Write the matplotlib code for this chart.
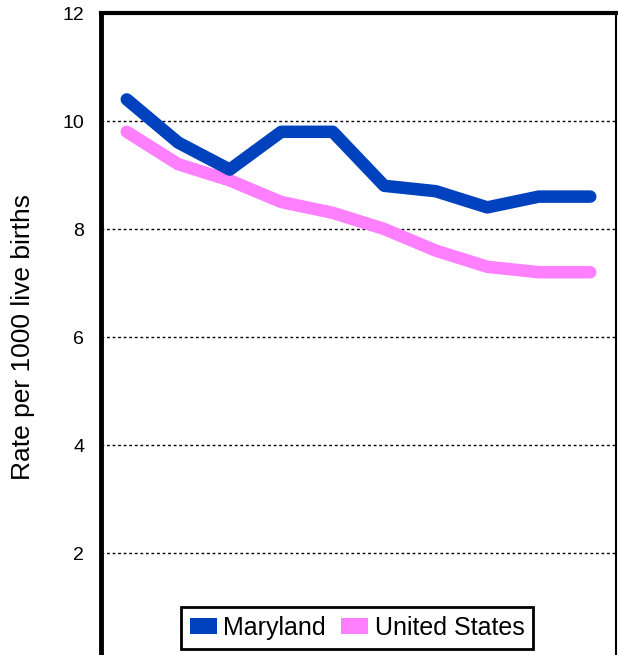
import matplotlib
matplotlib.use("Agg")
import matplotlib.pyplot as plt
from matplotlib.patches import Patch

# readings, 10 years (x labels are cropped out of the picture)
years = list(range(10))
maryland = [10.4, 9.6, 9.1, 9.8, 9.8, 8.8, 8.7, 8.4, 8.6, 8.6]
united_states = [9.8, 9.2, 8.9, 8.5, 8.3, 8.0, 7.6, 7.3, 7.2, 7.2]
y_ticks = [2, 4, 6, 8, 10, 12]

blue = "#0041BE"
pink = "#FF80FF"

plt.rcParams["font.family"] = ["Liberation Sans", "DejaVu Sans"]

fig = plt.figure(figsize=(6.18, 6.55), dpi=100)
# bottom of the plot area falls just below the picture edge
ax = fig.add_axes([101 / 618, -6 / 655, 515 / 618, 648 / 655])

ax.plot(years, united_states, color=pink, linewidth=9,
        solid_capstyle="round", solid_joinstyle="round", zorder=3)
ax.plot(years, maryland, color=blue, linewidth=9,
        solid_capstyle="round", solid_joinstyle="round", zorder=4)

ax.set_xlim(-0.5, 9.5)
ax.set_ylim(0, 12)
ax.set_yticks(y_ticks)
ax.set_xticks([])
ax.tick_params(axis="y", length=0, pad=12, labelsize=14)
ax.grid(axis="y", color="black", linestyle=(0, (2, 2)), linewidth=1)
ax.set_axisbelow(True)

for side, lw in [("left", 3.5), ("top", 3), ("right", 1.5), ("bottom", 1.5)]:
    ax.spines[side].set_linewidth(lw)
    ax.spines[side].set_color("black")

ax.set_ylabel("Rate per 1000 live births", fontsize=19, labelpad=20)

handles = [Patch(facecolor=blue, label="Maryland"),
           Patch(facecolor=pink, label="United States")]
leg = fig.legend(handles=handles, loc="center", ncol=2,
                 bbox_to_anchor=(357 / 618, 1 - 628 / 655),
                 fontsize=18, frameon=True, fancybox=False,
                 handlelength=1.1, handleheight=0.6, handletextpad=0.25,
                 columnspacing=0.6, borderpad=0.35, borderaxespad=0)
leg.get_frame().set_edgecolor("black")
leg.get_frame().set_linewidth(2)
leg.get_frame().set_alpha(1)

fig.savefig("out.png", dpi=100)
